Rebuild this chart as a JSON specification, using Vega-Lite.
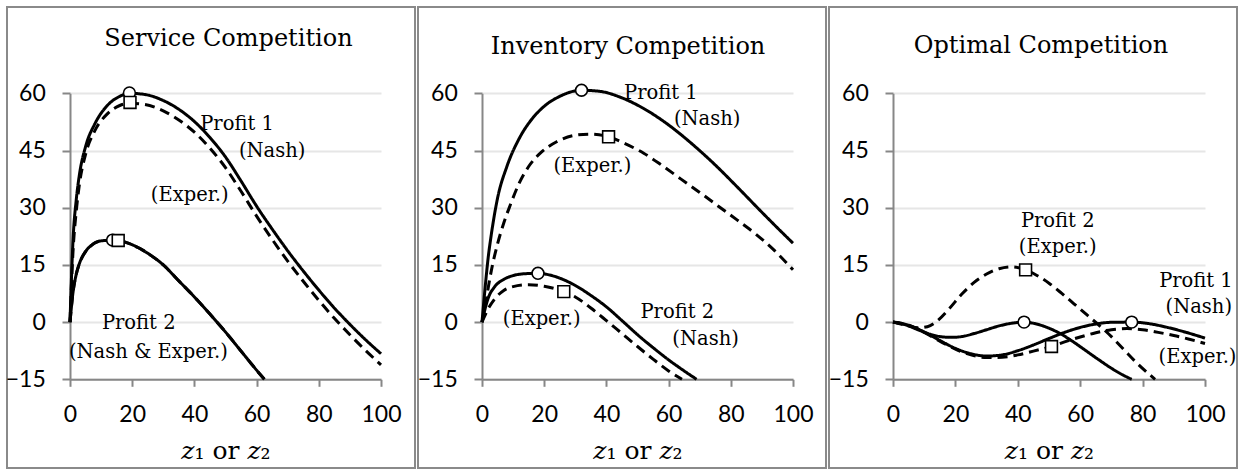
{
  "$schema": "https://vega.github.io/schema/vega-lite/v6.json",
  "autosize": {"type": "pad"},
  "padding": {"left": 4, "top": 6, "right": 0, "bottom": 0},
  "background": "white",
  "spacing": 3,
  "bounds": "flush",
  "config": {
    "view": {"stroke": "#8a8a8a", "strokeWidth": 2},
    "title": {"font": "DejaVu Serif", "fontSize": 24, "fontWeight": "normal", "color": "#000000", "frame": "group", "anchor": "middle", "baseline": "alphabetic"},
    "axis": {"domainColor": "#878787", "domainWidth": 2, "tickColor": "#878787", "tickWidth": 2, "labelFont": "Lato", "labelFontSize": 23, "labelColor": "#000000", "gridColor": "#e6e6e6", "gridWidth": 2, "labelFlush": false, "labelOverlap": false, "labelBound": false},
    "axisX": {"tickSize": 7, "labelPadding": 35, "labelBaseline": "alphabetic", "grid": false, "titleFont": "DejaVu Serif", "titleFontSize": 25, "titleFontWeight": "normal", "titleColor": "#000000", "titleBaseline": "alphabetic", "titleY": 79},
    "axisY": {"tickSize": 8, "labelPadding": 16.7, "grid": true}
  },
  "datasets": {
    "curves": [
      {"p":"S","s":"P1","t":"Nash","z":0,"v":0},{"p":"S","s":"P1","t":"Nash","z":1,"v":22},{"p":"S","s":"P1","t":"Nash","z":2,"v":32},{"p":"S","s":"P1","t":"Nash","z":3,"v":38.5},{"p":"S","s":"P1","t":"Nash","z":5,"v":46},{"p":"S","s":"P1","t":"Nash","z":8,"v":52},{"p":"S","s":"P1","t":"Nash","z":12,"v":56.8},{"p":"S","s":"P1","t":"Nash","z":16,"v":59.2},{"p":"S","s":"P1","t":"Nash","z":19,"v":60},{"p":"S","s":"P1","t":"Nash","z":24,"v":59.7},{"p":"S","s":"P1","t":"Nash","z":30,"v":58.1},{"p":"S","s":"P1","t":"Nash","z":35,"v":55.8},{"p":"S","s":"P1","t":"Nash","z":40,"v":52.6},{"p":"S","s":"P1","t":"Nash","z":45,"v":48.4},{"p":"S","s":"P1","t":"Nash","z":50,"v":43.3},{"p":"S","s":"P1","t":"Nash","z":55,"v":37.0},{"p":"S","s":"P1","t":"Nash","z":60,"v":30.4},{"p":"S","s":"P1","t":"Nash","z":65,"v":24.4},{"p":"S","s":"P1","t":"Nash","z":70,"v":18.7},{"p":"S","s":"P1","t":"Nash","z":75,"v":13.4},{"p":"S","s":"P1","t":"Nash","z":80,"v":8.4},{"p":"S","s":"P1","t":"Nash","z":85,"v":3.7},{"p":"S","s":"P1","t":"Nash","z":90,"v":-0.6},{"p":"S","s":"P1","t":"Nash","z":95,"v":-4.6},{"p":"S","s":"P1","t":"Nash","z":100,"v":-8.3},
      {"p":"S","s":"P1","t":"Exper.","z":0,"v":0},{"p":"S","s":"P1","t":"Exper.","z":1,"v":19},{"p":"S","s":"P1","t":"Exper.","z":2,"v":29},{"p":"S","s":"P1","t":"Exper.","z":3,"v":36},{"p":"S","s":"P1","t":"Exper.","z":5,"v":44},{"p":"S","s":"P1","t":"Exper.","z":8,"v":50.2},{"p":"S","s":"P1","t":"Exper.","z":12,"v":54.6},{"p":"S","s":"P1","t":"Exper.","z":16,"v":56.8},{"p":"S","s":"P1","t":"Exper.","z":19,"v":57.4},{"p":"S","s":"P1","t":"Exper.","z":24,"v":57.1},{"p":"S","s":"P1","t":"Exper.","z":30,"v":55.4},{"p":"S","s":"P1","t":"Exper.","z":35,"v":53},{"p":"S","s":"P1","t":"Exper.","z":40,"v":49.8},{"p":"S","s":"P1","t":"Exper.","z":45,"v":45.6},{"p":"S","s":"P1","t":"Exper.","z":50,"v":40.5},{"p":"S","s":"P1","t":"Exper.","z":55,"v":34.3},{"p":"S","s":"P1","t":"Exper.","z":60,"v":27.8},{"p":"S","s":"P1","t":"Exper.","z":65,"v":21.7},{"p":"S","s":"P1","t":"Exper.","z":70,"v":16.0},{"p":"S","s":"P1","t":"Exper.","z":75,"v":10.7},{"p":"S","s":"P1","t":"Exper.","z":80,"v":5.7},{"p":"S","s":"P1","t":"Exper.","z":85,"v":1.0},{"p":"S","s":"P1","t":"Exper.","z":90,"v":-3.3},{"p":"S","s":"P1","t":"Exper.","z":95,"v":-7.4},{"p":"S","s":"P1","t":"Exper.","z":100,"v":-11.2},
      {"p":"S","s":"P2","t":"Nash","z":0,"v":0},{"p":"S","s":"P2","t":"Nash","z":1,"v":8},{"p":"S","s":"P2","t":"Nash","z":2,"v":12.5},{"p":"S","s":"P2","t":"Nash","z":3,"v":15.3},{"p":"S","s":"P2","t":"Nash","z":5,"v":18.5},{"p":"S","s":"P2","t":"Nash","z":7,"v":20.2},{"p":"S","s":"P2","t":"Nash","z":10,"v":21.3},{"p":"S","s":"P2","t":"Nash","z":14,"v":21.5},{"p":"S","s":"P2","t":"Nash","z":18,"v":20.9},{"p":"S","s":"P2","t":"Nash","z":22,"v":19.5},{"p":"S","s":"P2","t":"Nash","z":26,"v":17.5},{"p":"S","s":"P2","t":"Nash","z":30,"v":15},{"p":"S","s":"P2","t":"Nash","z":35,"v":10.8},{"p":"S","s":"P2","t":"Nash","z":40,"v":6.6},{"p":"S","s":"P2","t":"Nash","z":45,"v":2.1},{"p":"S","s":"P2","t":"Nash","z":50,"v":-2.6},{"p":"S","s":"P2","t":"Nash","z":55,"v":-7.6},{"p":"S","s":"P2","t":"Nash","z":60,"v":-12.6},{"p":"S","s":"P2","t":"Nash","z":62.5,"v":-15},
      {"p":"S","s":"P2","t":"Exper.","z":0,"v":0},{"p":"S","s":"P2","t":"Exper.","z":1,"v":8},{"p":"S","s":"P2","t":"Exper.","z":2,"v":12.5},{"p":"S","s":"P2","t":"Exper.","z":3,"v":15.3},{"p":"S","s":"P2","t":"Exper.","z":5,"v":18.5},{"p":"S","s":"P2","t":"Exper.","z":7,"v":20.2},{"p":"S","s":"P2","t":"Exper.","z":10,"v":21.3},{"p":"S","s":"P2","t":"Exper.","z":14,"v":21.5},{"p":"S","s":"P2","t":"Exper.","z":18,"v":20.9},{"p":"S","s":"P2","t":"Exper.","z":22,"v":19.5},{"p":"S","s":"P2","t":"Exper.","z":26,"v":17.5},{"p":"S","s":"P2","t":"Exper.","z":30,"v":15},{"p":"S","s":"P2","t":"Exper.","z":35,"v":10.8},{"p":"S","s":"P2","t":"Exper.","z":40,"v":6.6},{"p":"S","s":"P2","t":"Exper.","z":45,"v":2.1},{"p":"S","s":"P2","t":"Exper.","z":50,"v":-2.6},{"p":"S","s":"P2","t":"Exper.","z":55,"v":-7.6},{"p":"S","s":"P2","t":"Exper.","z":60,"v":-12.6},{"p":"S","s":"P2","t":"Exper.","z":62.5,"v":-15},
      {"p":"I","s":"P1","t":"Nash","z":0,"v":0},{"p":"I","s":"P1","t":"Nash","z":1,"v":9},{"p":"I","s":"P1","t":"Nash","z":2,"v":17},{"p":"I","s":"P1","t":"Nash","z":3,"v":23},{"p":"I","s":"P1","t":"Nash","z":5,"v":32.5},{"p":"I","s":"P1","t":"Nash","z":8,"v":40.8},{"p":"I","s":"P1","t":"Nash","z":12,"v":48.2},{"p":"I","s":"P1","t":"Nash","z":16,"v":53.2},{"p":"I","s":"P1","t":"Nash","z":20,"v":56.6},{"p":"I","s":"P1","t":"Nash","z":25,"v":59.2},{"p":"I","s":"P1","t":"Nash","z":32,"v":60.8},{"p":"I","s":"P1","t":"Nash","z":38,"v":60.5},{"p":"I","s":"P1","t":"Nash","z":45,"v":58.8},{"p":"I","s":"P1","t":"Nash","z":52,"v":56},{"p":"I","s":"P1","t":"Nash","z":60,"v":51.7},{"p":"I","s":"P1","t":"Nash","z":68,"v":46.4},{"p":"I","s":"P1","t":"Nash","z":75,"v":41.2},{"p":"I","s":"P1","t":"Nash","z":82,"v":35.5},{"p":"I","s":"P1","t":"Nash","z":90,"v":28.8},{"p":"I","s":"P1","t":"Nash","z":95,"v":24.7},{"p":"I","s":"P1","t":"Nash","z":100,"v":20.7},
      {"p":"I","s":"P1","t":"Exper.","z":0,"v":0},{"p":"I","s":"P1","t":"Exper.","z":1,"v":4},{"p":"I","s":"P1","t":"Exper.","z":2,"v":9},{"p":"I","s":"P1","t":"Exper.","z":3,"v":13.5},{"p":"I","s":"P1","t":"Exper.","z":5,"v":20.5},{"p":"I","s":"P1","t":"Exper.","z":7,"v":26},{"p":"I","s":"P1","t":"Exper.","z":9,"v":30.5},{"p":"I","s":"P1","t":"Exper.","z":12,"v":36.5},{"p":"I","s":"P1","t":"Exper.","z":15,"v":40.8},{"p":"I","s":"P1","t":"Exper.","z":19,"v":44.5},{"p":"I","s":"P1","t":"Exper.","z":24,"v":47.3},{"p":"I","s":"P1","t":"Exper.","z":30,"v":49},{"p":"I","s":"P1","t":"Exper.","z":35,"v":49.3},{"p":"I","s":"P1","t":"Exper.","z":40.7,"v":48.6},{"p":"I","s":"P1","t":"Exper.","z":46,"v":46.8},{"p":"I","s":"P1","t":"Exper.","z":52,"v":44.3},{"p":"I","s":"P1","t":"Exper.","z":58,"v":41},{"p":"I","s":"P1","t":"Exper.","z":64,"v":37.5},{"p":"I","s":"P1","t":"Exper.","z":70,"v":34},{"p":"I","s":"P1","t":"Exper.","z":76,"v":30.4},{"p":"I","s":"P1","t":"Exper.","z":82,"v":26.8},{"p":"I","s":"P1","t":"Exper.","z":88,"v":23.1},{"p":"I","s":"P1","t":"Exper.","z":94,"v":18.8},{"p":"I","s":"P1","t":"Exper.","z":100,"v":13.7},
      {"p":"I","s":"P2","t":"Nash","z":0,"v":0},{"p":"I","s":"P2","t":"Nash","z":1,"v":3.5},{"p":"I","s":"P2","t":"Nash","z":2,"v":6.3},{"p":"I","s":"P2","t":"Nash","z":4,"v":9.2},{"p":"I","s":"P2","t":"Nash","z":7,"v":11.2},{"p":"I","s":"P2","t":"Nash","z":10,"v":12.2},{"p":"I","s":"P2","t":"Nash","z":14,"v":12.7},{"p":"I","s":"P2","t":"Nash","z":18,"v":12.8},{"p":"I","s":"P2","t":"Nash","z":22,"v":12.3},{"p":"I","s":"P2","t":"Nash","z":26,"v":11.2},{"p":"I","s":"P2","t":"Nash","z":30,"v":9.6},{"p":"I","s":"P2","t":"Nash","z":35,"v":7},{"p":"I","s":"P2","t":"Nash","z":40,"v":4},{"p":"I","s":"P2","t":"Nash","z":45,"v":0.4},{"p":"I","s":"P2","t":"Nash","z":50,"v":-3.3},{"p":"I","s":"P2","t":"Nash","z":55,"v":-6.7},{"p":"I","s":"P2","t":"Nash","z":60,"v":-9.9},{"p":"I","s":"P2","t":"Nash","z":65,"v":-12.8},{"p":"I","s":"P2","t":"Nash","z":69,"v":-15},
      {"p":"I","s":"P2","t":"Exper.","z":0,"v":0},{"p":"I","s":"P2","t":"Exper.","z":2,"v":3.5},{"p":"I","s":"P2","t":"Exper.","z":4,"v":6},{"p":"I","s":"P2","t":"Exper.","z":7,"v":8.3},{"p":"I","s":"P2","t":"Exper.","z":10,"v":9.3},{"p":"I","s":"P2","t":"Exper.","z":15,"v":9.8},{"p":"I","s":"P2","t":"Exper.","z":20,"v":9.4},{"p":"I","s":"P2","t":"Exper.","z":26.3,"v":8},{"p":"I","s":"P2","t":"Exper.","z":30,"v":6.6},{"p":"I","s":"P2","t":"Exper.","z":35,"v":3.7},{"p":"I","s":"P2","t":"Exper.","z":40,"v":0.4},{"p":"I","s":"P2","t":"Exper.","z":45,"v":-3},{"p":"I","s":"P2","t":"Exper.","z":50,"v":-6.4},{"p":"I","s":"P2","t":"Exper.","z":55,"v":-9.7},{"p":"I","s":"P2","t":"Exper.","z":60,"v":-12.8},{"p":"I","s":"P2","t":"Exper.","z":64.3,"v":-15},
      {"p":"O","s":"P1","t":"Nash","z":0,"v":0},{"p":"O","s":"P1","t":"Nash","z":5,"v":-0.8},{"p":"O","s":"P1","t":"Nash","z":10,"v":-2.6},{"p":"O","s":"P1","t":"Nash","z":15,"v":-4.8},{"p":"O","s":"P1","t":"Nash","z":20,"v":-6.9},{"p":"O","s":"P1","t":"Nash","z":25,"v":-8.3},{"p":"O","s":"P1","t":"Nash","z":30,"v":-8.9},{"p":"O","s":"P1","t":"Nash","z":35,"v":-8.6},{"p":"O","s":"P1","t":"Nash","z":40,"v":-7.5},{"p":"O","s":"P1","t":"Nash","z":45,"v":-6},{"p":"O","s":"P1","t":"Nash","z":50,"v":-4.3},{"p":"O","s":"P1","t":"Nash","z":55,"v":-2.7},{"p":"O","s":"P1","t":"Nash","z":60,"v":-1.4},{"p":"O","s":"P1","t":"Nash","z":65,"v":-0.5},{"p":"O","s":"P1","t":"Nash","z":70,"v":-0.05},{"p":"O","s":"P1","t":"Nash","z":76.5,"v":0},{"p":"O","s":"P1","t":"Nash","z":82,"v":-0.4},{"p":"O","s":"P1","t":"Nash","z":88,"v":-1.4},{"p":"O","s":"P1","t":"Nash","z":94,"v":-2.7},{"p":"O","s":"P1","t":"Nash","z":100,"v":-4.2},
      {"p":"O","s":"P1","t":"Exper.","z":0,"v":0},{"p":"O","s":"P1","t":"Exper.","z":5,"v":-0.8},{"p":"O","s":"P1","t":"Exper.","z":10,"v":-2.7},{"p":"O","s":"P1","t":"Exper.","z":15,"v":-5},{"p":"O","s":"P1","t":"Exper.","z":20,"v":-7.1},{"p":"O","s":"P1","t":"Exper.","z":25,"v":-8.6},{"p":"O","s":"P1","t":"Exper.","z":30,"v":-9.3},{"p":"O","s":"P1","t":"Exper.","z":35,"v":-9.2},{"p":"O","s":"P1","t":"Exper.","z":40,"v":-8.6},{"p":"O","s":"P1","t":"Exper.","z":45,"v":-7.6},{"p":"O","s":"P1","t":"Exper.","z":50.8,"v":-6.4},{"p":"O","s":"P1","t":"Exper.","z":55,"v":-5.2},{"p":"O","s":"P1","t":"Exper.","z":60,"v":-3.9},{"p":"O","s":"P1","t":"Exper.","z":65,"v":-2.8},{"p":"O","s":"P1","t":"Exper.","z":70,"v":-2},{"p":"O","s":"P1","t":"Exper.","z":75,"v":-1.7},{"p":"O","s":"P1","t":"Exper.","z":80,"v":-2},{"p":"O","s":"P1","t":"Exper.","z":85,"v":-2.7},{"p":"O","s":"P1","t":"Exper.","z":90,"v":-3.5},{"p":"O","s":"P1","t":"Exper.","z":95,"v":-4.5},{"p":"O","s":"P1","t":"Exper.","z":100,"v":-5.6},
      {"p":"O","s":"P2","t":"Nash","z":0,"v":0},{"p":"O","s":"P2","t":"Nash","z":4,"v":-0.7},{"p":"O","s":"P2","t":"Nash","z":8,"v":-2},{"p":"O","s":"P2","t":"Nash","z":12,"v":-3.2},{"p":"O","s":"P2","t":"Nash","z":16,"v":-3.9},{"p":"O","s":"P2","t":"Nash","z":19,"v":-4},{"p":"O","s":"P2","t":"Nash","z":22,"v":-3.8},{"p":"O","s":"P2","t":"Nash","z":26,"v":-3},{"p":"O","s":"P2","t":"Nash","z":30,"v":-2},{"p":"O","s":"P2","t":"Nash","z":34,"v":-1},{"p":"O","s":"P2","t":"Nash","z":38,"v":-0.3},{"p":"O","s":"P2","t":"Nash","z":42,"v":0},{"p":"O","s":"P2","t":"Nash","z":46,"v":-0.5},{"p":"O","s":"P2","t":"Nash","z":50,"v":-1.6},{"p":"O","s":"P2","t":"Nash","z":54,"v":-3.2},{"p":"O","s":"P2","t":"Nash","z":58,"v":-5.3},{"p":"O","s":"P2","t":"Nash","z":62,"v":-7.6},{"p":"O","s":"P2","t":"Nash","z":66,"v":-9.9},{"p":"O","s":"P2","t":"Nash","z":70,"v":-12.1},{"p":"O","s":"P2","t":"Nash","z":74,"v":-14},{"p":"O","s":"P2","t":"Nash","z":76.5,"v":-15},
      {"p":"O","s":"P2","t":"Exper.","z":0,"v":0},{"p":"O","s":"P2","t":"Exper.","z":4,"v":-0.8},{"p":"O","s":"P2","t":"Exper.","z":8,"v":-1.5},{"p":"O","s":"P2","t":"Exper.","z":11,"v":-1.2},{"p":"O","s":"P2","t":"Exper.","z":14,"v":0.2},{"p":"O","s":"P2","t":"Exper.","z":18,"v":3.5},{"p":"O","s":"P2","t":"Exper.","z":22,"v":7.3},{"p":"O","s":"P2","t":"Exper.","z":26,"v":10.4},{"p":"O","s":"P2","t":"Exper.","z":30,"v":12.6},{"p":"O","s":"P2","t":"Exper.","z":34,"v":14},{"p":"O","s":"P2","t":"Exper.","z":38,"v":14.5},{"p":"O","s":"P2","t":"Exper.","z":42.5,"v":13.7},{"p":"O","s":"P2","t":"Exper.","z":46,"v":12.3},{"p":"O","s":"P2","t":"Exper.","z":50,"v":10.2},{"p":"O","s":"P2","t":"Exper.","z":54,"v":7.6},{"p":"O","s":"P2","t":"Exper.","z":58,"v":4.8},{"p":"O","s":"P2","t":"Exper.","z":62,"v":2},{"p":"O","s":"P2","t":"Exper.","z":66,"v":-0.8},{"p":"O","s":"P2","t":"Exper.","z":70,"v":-3.8},{"p":"O","s":"P2","t":"Exper.","z":74,"v":-7.2},{"p":"O","s":"P2","t":"Exper.","z":78,"v":-10.6},{"p":"O","s":"P2","t":"Exper.","z":82,"v":-13.6},{"p":"O","s":"P2","t":"Exper.","z":84,"v":-15}
    ],
    "optima": [
      {"p":"S","s":"P1","t":"Nash","z":19.1,"v":60.1},{"p":"S","s":"P1","t":"Exper.","z":19.3,"v":57.6},{"p":"S","s":"P2","t":"Nash","z":13.7,"v":21.5},{"p":"S","s":"P2","t":"Exper.","z":15.5,"v":21.4},
      {"p":"I","s":"P1","t":"Nash","z":32,"v":60.8},{"p":"I","s":"P1","t":"Exper.","z":40.7,"v":48.6},{"p":"I","s":"P2","t":"Nash","z":18,"v":12.8},{"p":"I","s":"P2","t":"Exper.","z":26.3,"v":8},
      {"p":"O","s":"P1","t":"Nash","z":76.5,"v":0},{"p":"O","s":"P1","t":"Exper.","z":50.8,"v":-6.4},{"p":"O","s":"P2","t":"Nash","z":42,"v":0},{"p":"O","s":"P2","t":"Exper.","z":42.5,"v":13.7}
    ],
    "notes": [
      {"p":"S","label":"Profit 1","z":53.7,"v":51.9},{"p":"S","label":"(Nash)","z":65,"v":44.9},{"p":"S","label":"(Exper.)","z":38.5,"v":33.3},{"p":"S","label":"Profit 2","z":22.1,"v":-0.3},{"p":"S","label":"(Nash & Exper.)","z":25.2,"v":-7.8},
      {"p":"I","label":"Profit 1","z":57.5,"v":60.2},{"p":"I","label":"(Nash)","z":72.4,"v":53.2},{"p":"I","label":"(Exper.)","z":35.5,"v":41},{"p":"I","label":"Profit 2","z":62.8,"v":2.6},{"p":"I","label":"(Nash)","z":71.9,"v":-4.4},{"p":"I","label":"(Exper.)","z":19.2,"v":0.7},
      {"p":"O","label":"Profit 2","z":52.8,"v":26.6},{"p":"O","label":"(Exper.)","z":52.8,"v":19.6},{"p":"O","label":"Profit 1","z":97.1,"v":10.9},{"p":"O","label":"(Nash)","z":98,"v":3.9},{"p":"O","label":"(Exper.)","z":97.6,"v":-9.1}
    ]
  },
  "hconcat": [
    {
      "width": 408, "height": 461,
      "title": {"text": "Service Competition", "offset": -44, "dx": 17.5},
      "encoding": {
        "x": {"field": "z", "type": "quantitative", "scale": {"domain": [0, 100], "range": [63, 374], "nice": false, "zero": false}, "axis": {"values": [0, 20, 40, 60, 80, 100], "offset": -88.7, "title": "𝑧₁ or 𝑧₂"}},
        "y": {"field": "v", "type": "quantitative", "scale": {"domain": [-15, 60], "range": [372.3, 86.3], "nice": false, "zero": false}, "axis": {"values": [-15, 0, 15, 30, 45, 60], "offset": -63, "title": null}}
      },
      "layer": [
        {"data": {"name": "curves"}, "transform": [{"filter": "datum.p === 'S'"}],
         "mark": {"type": "line", "interpolate": "monotone", "color": "#000000", "strokeWidth": 3},
         "encoding": {"detail": [{"field": "s"}, {"field": "t"}], "strokeDash": {"field": "t", "type": "nominal", "scale": {"domain": ["Nash", "Exper."], "range": [[1, 0], [10, 6]]}, "legend": null}}},
        {"data": {"name": "optima"}, "transform": [{"filter": "datum.p === 'S'"}],
         "mark": {"type": "point", "fill": "#ffffff", "stroke": "#000000", "strokeWidth": 1.6, "opacity": 1, "filled": false, "size": 140},
         "encoding": {"shape": {"field": "t", "type": "nominal", "scale": {"domain": ["Nash", "Exper."], "range": ["circle", "square"]}, "legend": null}}},
        {"data": {"name": "notes"}, "transform": [{"filter": "datum.p === 'S'"}],
         "mark": {"type": "text", "font": "DejaVu Serif", "fontSize": 19.5, "align": "center", "baseline": "middle", "color": "#000000"},
         "encoding": {"text": {"field": "label"}}}
      ]
    },
    {
      "width": 408, "height": 461,
      "title": {"text": "Inventory Competition", "offset": -52.3, "dx": 6},
      "encoding": {
        "x": {"field": "z", "type": "quantitative", "scale": {"domain": [0, 100], "range": [64, 375], "nice": false, "zero": false}, "axis": {"values": [0, 20, 40, 60, 80, 100], "offset": -88.7, "title": "𝑧₁ or 𝑧₂"}},
        "y": {"field": "v", "type": "quantitative", "scale": {"domain": [-15, 60], "range": [372.3, 86.3], "nice": false, "zero": false}, "axis": {"values": [-15, 0, 15, 30, 45, 60], "offset": -64, "title": null}}
      },
      "layer": [
        {"data": {"name": "curves"}, "transform": [{"filter": "datum.p === 'I'"}],
         "mark": {"type": "line", "interpolate": "monotone", "color": "#000000", "strokeWidth": 3},
         "encoding": {"detail": [{"field": "s"}, {"field": "t"}], "strokeDash": {"field": "t", "type": "nominal", "scale": {"domain": ["Nash", "Exper."], "range": [[1, 0], [10, 6]]}, "legend": null}}},
        {"data": {"name": "optima"}, "transform": [{"filter": "datum.p === 'I'"}],
         "mark": {"type": "point", "fill": "#ffffff", "stroke": "#000000", "strokeWidth": 1.6, "opacity": 1, "filled": false, "size": 140},
         "encoding": {"shape": {"field": "t", "type": "nominal", "scale": {"domain": ["Nash", "Exper."], "range": ["circle", "square"]}, "legend": null}}},
        {"data": {"name": "notes"}, "transform": [{"filter": "datum.p === 'I'"}],
         "mark": {"type": "text", "font": "DejaVu Serif", "fontSize": 19.5, "align": "center", "baseline": "middle", "color": "#000000"},
         "encoding": {"text": {"field": "label"}}}
      ]
    },
    {
      "width": 408, "height": 461,
      "title": {"text": "Optimal Competition", "offset": -50.7, "dx": 8},
      "encoding": {
        "x": {"field": "z", "type": "quantitative", "scale": {"domain": [0, 100], "range": [64, 376], "nice": false, "zero": false}, "axis": {"values": [0, 20, 40, 60, 80, 100], "offset": -88.7, "title": "𝑧₁ or 𝑧₂"}},
        "y": {"field": "v", "type": "quantitative", "scale": {"domain": [-15, 60], "range": [372.3, 86.3], "nice": false, "zero": false}, "axis": {"values": [-15, 0, 15, 30, 45, 60], "offset": -64, "title": null}}
      },
      "layer": [
        {"data": {"name": "curves"}, "transform": [{"filter": "datum.p === 'O'"}],
         "mark": {"type": "line", "interpolate": "monotone", "color": "#000000", "strokeWidth": 3},
         "encoding": {"detail": [{"field": "s"}, {"field": "t"}], "strokeDash": {"field": "t", "type": "nominal", "scale": {"domain": ["Nash", "Exper."], "range": [[1, 0], [10, 6]]}, "legend": null}}},
        {"data": {"name": "optima"}, "transform": [{"filter": "datum.p === 'O'"}],
         "mark": {"type": "point", "fill": "#ffffff", "stroke": "#000000", "strokeWidth": 1.6, "opacity": 1, "filled": false, "size": 140},
         "encoding": {"shape": {"field": "t", "type": "nominal", "scale": {"domain": ["Nash", "Exper."], "range": ["circle", "square"]}, "legend": null}}},
        {"data": {"name": "notes"}, "transform": [{"filter": "datum.p === 'O'"}],
         "mark": {"type": "text", "font": "DejaVu Serif", "fontSize": 19.5, "align": "center", "baseline": "middle", "color": "#000000"},
         "encoding": {"text": {"field": "label"}}}
      ]
    }
  ]
}
